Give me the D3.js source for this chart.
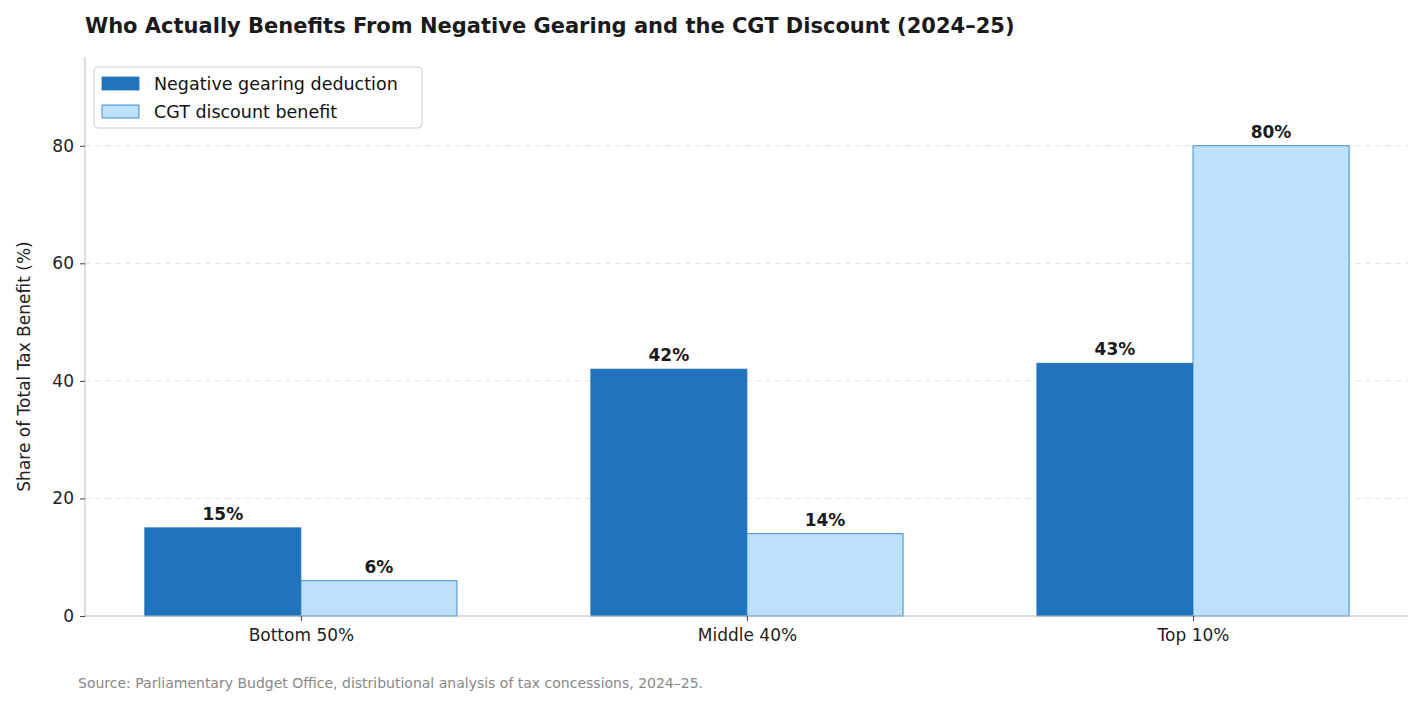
<!DOCTYPE html>
<html><head><meta charset="utf-8">
<script src="https://cdn.jsdelivr.net/npm/d3@7"></script>
<style>body{margin:0;background:#fff;font-family:"DejaVu Sans",sans-serif}</style>
</head><body><svg id="c" width="1424" height="705"></svg>
<script>
const categories = ['Bottom 50%', 'Middle 40%', 'Top 10%']
const negativeGearing = [15, 42, 43]
const cgtDiscount = [6, 14, 80]
const yTicks = [0, 20, 40, 60, 80]
const seriesNames = ['Negative gearing deduction', 'CGT discount benefit']

const svg = d3.select('#c')
const m = {left: 85, right: 1408, top: 57, bottom: 616}
const x = d3.scaleLinear().domain([-0.484, 2.482]).range([m.left, m.right])
const y = d3.scaleLinear().domain([0, 95.1]).range([m.bottom, m.top])
const w = 0.35
const dark = '#1f74bd', light = '#bde0fe'

// grid
svg.selectAll('.grid').data(yTicks.slice(1)).join('line')
  .attr('x1', m.left).attr('x2', m.right)
  .attr('y1', d => y(d)).attr('y2', d => y(d))
  .attr('stroke', '#e3e3e3').attr('stroke-dasharray', '6,4')

const series = [
  {vals: negativeGearing, off: -w / 2, fill: dark},
  {vals: cgtDiscount, off: w / 2, fill: light}
]
series.forEach(s => {
  svg.append('g').selectAll('rect').data(s.vals).join('rect')
    .attr('x', (d, i) => x(i + s.off - w / 2))
    .attr('width', x(w) - x(0))
    .attr('y', d => y(d)).attr('height', d => y(0) - y(d))
    .attr('fill', s.fill).attr('stroke', dark).attr('stroke-width', 0.8)
  svg.append('g').selectAll('text').data(s.vals).join('text')
    .attr('x', (d, i) => x(i + s.off)).attr('y', d => y(d) - 8)
    .attr('text-anchor', 'middle').attr('font-size', 17).attr('font-weight', 'bold')
    .attr('fill', '#1a1a1a').text(d => d + '%')
})

// axes
const ya = svg.append('g').attr('transform', `translate(${m.left},0)`)
  .call(d3.axisLeft(y).tickValues(yTicks).tickSize(5).tickPadding(6))
const xa = svg.append('g').attr('transform', `translate(0,${m.bottom})`)
  .call(d3.axisBottom(x).tickValues([0, 1, 2]).tickFormat(i => categories[i]).tickSize(5).tickPadding(8))
;[ya, xa].forEach(a => {
  a.selectAll('.domain').attr('stroke', '#bbb')
  a.selectAll('line').attr('stroke', '#444')
  a.selectAll('text').attr('font-size', 17).attr('fill', '#222').attr('font-family', 'DejaVu Sans')
})
ya.select('.domain').attr('d', `M0,${m.top}V${m.bottom}`)
xa.select('.domain').attr('d', `M${m.left},0H${m.right}`)

svg.append('text').attr('transform', `translate(30,${(m.top + m.bottom) / 2 + 30}) rotate(-90)`)
  .attr('text-anchor', 'middle').attr('font-size', 17).attr('fill', '#222')
  .text('Share of Total Tax Benefit (%)')

svg.append('text').attr('x', 85).attr('y', 33).attr('font-size', 21).attr('font-weight', 'bold')
  .attr('fill', '#1a1a1a').text('Who Actually Benefits From Negative Gearing and the CGT Discount (2024–25)')

svg.append('text').attr('x', 78).attr('y', 688).attr('font-size', 14).attr('fill', '#888')
  .text('Source: Parliamentary Budget Office, distributional analysis of tax concessions, 2024–25.')

// legend
const lg = svg.append('g')
lg.append('rect').attr('x', 94).attr('y', 67).attr('width', 328).attr('height', 61).attr('rx', 4)
  .attr('fill', '#fff').attr('stroke', '#ccc')
seriesNames.forEach((n, i) => {
  lg.append('rect').attr('x', 102).attr('y', 77 + i * 28).attr('width', 37).attr('height', 13)
    .attr('fill', i ? light : dark).attr('stroke', dark).attr('stroke-width', 0.8)
  lg.append('text').attr('x', 154).attr('y', 90 + i * 28).attr('font-size', 17.5).attr('fill', '#111').text(n)
})
</script></body></html>
